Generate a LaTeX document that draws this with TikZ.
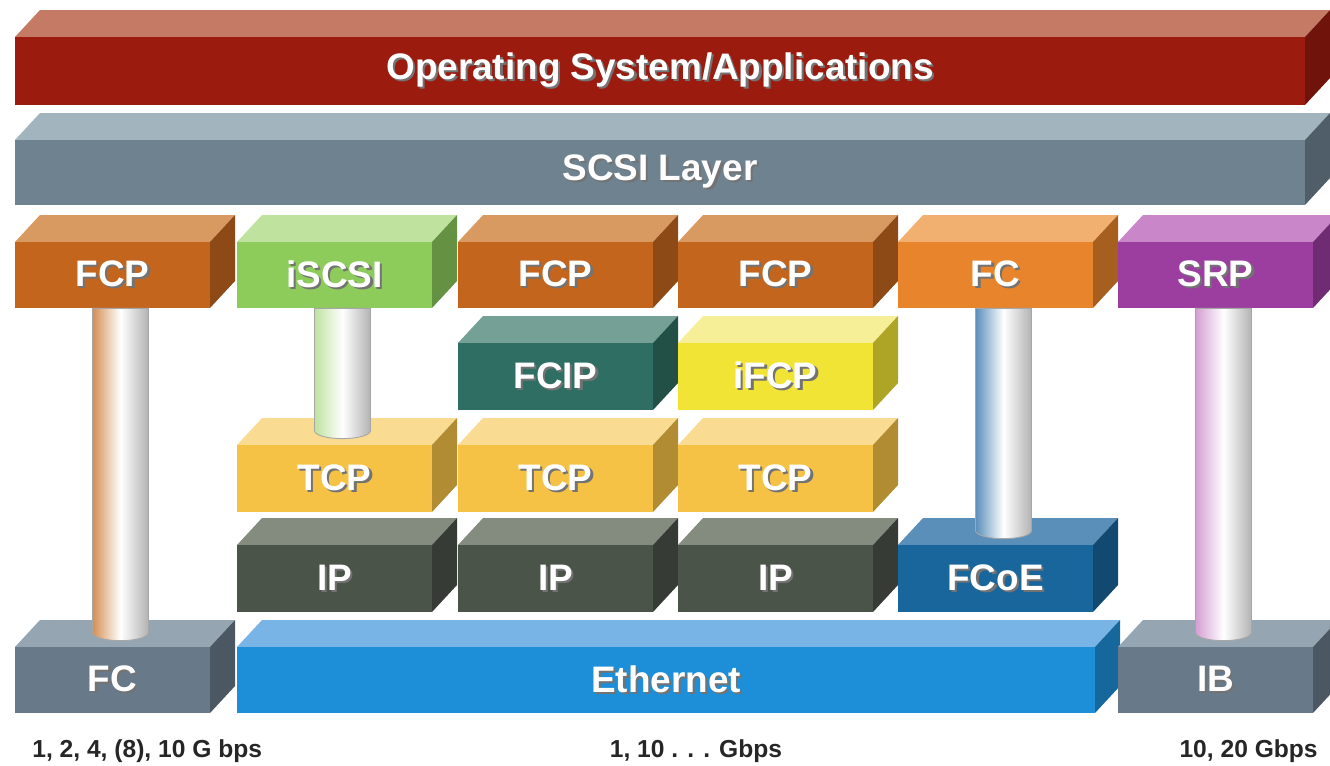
\documentclass[tikz,border=0pt]{standalone}
\usepackage{fontspec}
\setmainfont{Liberation Sans}
\usepackage{xcolor}
\usepackage{tikz}
\usetikzlibrary{calc}

\definecolor{osF}{HTML}{9B1B0F}  \definecolor{osT}{HTML}{C47A64}
\definecolor{scF}{HTML}{6E8290}  \definecolor{scT}{HTML}{A2B4BE}
\definecolor{fcpF}{HTML}{C4651E} \definecolor{fcpT}{HTML}{D99A62}
\definecolor{iscF}{HTML}{8DCB5B} \definecolor{iscT}{HTML}{BFE29F}
\definecolor{fcF}{HTML}{E8842C}  \definecolor{fcT}{HTML}{F2B070}
\definecolor{srpF}{HTML}{9C3DA0} \definecolor{srpT}{HTML}{C986C8}
\definecolor{fcipF}{HTML}{2F6F63}\definecolor{fcipT}{HTML}{74A096}
\definecolor{ifcpF}{HTML}{F2E434}\definecolor{ifcpT}{HTML}{F7EE98}
\definecolor{tcpF}{HTML}{F6C246} \definecolor{tcpT}{HTML}{F9DB92}
\definecolor{ipF}{HTML}{4B5449}  \definecolor{ipT}{HTML}{848C80}
\definecolor{fcoeF}{HTML}{18669C}\definecolor{fcoeT}{HTML}{5A8FBA}
\definecolor{ethF}{HTML}{1D8FD8} \definecolor{ethT}{HTML}{78B4E6}
\definecolor{gryF}{HTML}{687A8A} \definecolor{gryT}{HTML}{95A5B2}

\tikzset{
  layerbox/.style={inner sep=0pt, text=white, font=\fontsize{21}{24}\selectfont\bfseries},
  rate/.style={inner sep=0pt, text=black!85, font=\fontsize{14}{16}\selectfont\bfseries},
}

% white text with a dark drop shadow
\newcommand\shtext[1]{\raisebox{-2pt}{\makebox[0pt][l]{\kern1.3pt\raisebox{-1.3pt}{\textcolor{black!55}{#1}}}#1}}

% name, left, top, width, height, colour, label
\newcommand\layer[7]{%
  \fill[#6T] (#2,#3) -- ++(25,-27) -- ++(#4,0) -- ++(-25,27) -- cycle;
  \fill[#6F!72!black] (#2+#4,#3) -- ++(25,-27) -- ++(0,#5) -- ++(-25,27) -- cycle;
  \node[layerbox, fill=#6F, minimum width=#4*0.02cm, minimum height=#5*0.02cm]
    (#1) at (#2+#4/2,#3+#5/2) {\shtext{#7}};
}

% upper block, lower block, colour
\newcommand\pillar[3]{%
  \path[left color=#3, right color=gray!60, middle color=white, draw=black!35, line width=0.5pt]
    let \p1=($(#1.south)+(8,0)$), \p2=($(#2.north)+(0,-14)$) in
    (\x1-0.56cm,\y1) -- (\x1-0.56cm,\y2)
    arc[start angle=180, end angle=360, x radius=0.56cm, y radius=0.16cm]
    -- (\x1+0.56cm,\y1) -- cycle;
}

\begin{document}
\begin{tikzpicture}[x=0.02cm, y=-0.02cm]
    \fill[white] (0,0) rectangle (1330,765);
    \useasboundingbox (0,0) rectangle (1330,765);

    \layer{os}{15}{37}{1290}{68}{os}{Operating System/Applications}
    \layer{scsi}{15}{140}{1290}{65}{sc}{SCSI Layer}

    \layer{fcpA}{15}{242}{195}{66}{fcp}{FCP}
    \layer{iscsi}{237}{242}{195}{66}{isc}{iSCSI}
    \layer{fcpB}{458}{242}{195}{66}{fcp}{FCP}
    \layer{fcpC}{678}{242}{195}{66}{fcp}{FCP}
    \layer{fcA}{898}{242}{195}{66}{fc}{FC}
    \layer{srp}{1118}{242}{195}{66}{srp}{SRP}

    \layer{fcip}{458}{343}{195}{67}{fcip}{FCIP}
    \layer{ifcp}{678}{343}{195}{67}{ifcp}{iFCP}

    \layer{tcpA}{237}{445}{195}{67}{tcp}{TCP}
    \layer{tcpB}{458}{445}{195}{67}{tcp}{TCP}
    \layer{tcpC}{678}{445}{195}{67}{tcp}{TCP}

    \layer{ipA}{237}{545}{195}{67}{ip}{IP}
    \layer{ipB}{458}{545}{195}{67}{ip}{IP}
    \layer{ipC}{678}{545}{195}{67}{ip}{IP}
    \layer{fcoe}{898}{545}{195}{67}{fcoe}{FCoE}

    \layer{fcB}{15}{647}{195}{66}{gry}{FC}
    \layer{eth}{237}{647}{858}{66}{eth}{Ethernet}
    \layer{ib}{1118}{647}{195}{66}{gry}{IB}

    \pillar{fcpA}{fcB}{fcpT!80!fcpF}
    \pillar{iscsi}{tcpA}{iscT}
    \pillar{fcA}{fcoe}{fcoeT}
    \pillar{srp}{ib}{srpT!80!white}

    \node[rate, anchor=base west] (rateFC) at (32,757) {1, 2, 4, (8), 10 G bps};
    \node[rate, anchor=base] (rateEth) at (696,757) {1, 10 . . . Gbps};
    \node[rate, anchor=base east] (rateIB) at (1318,757) {10, 20 Gbps};
\end{tikzpicture}
\end{document}
